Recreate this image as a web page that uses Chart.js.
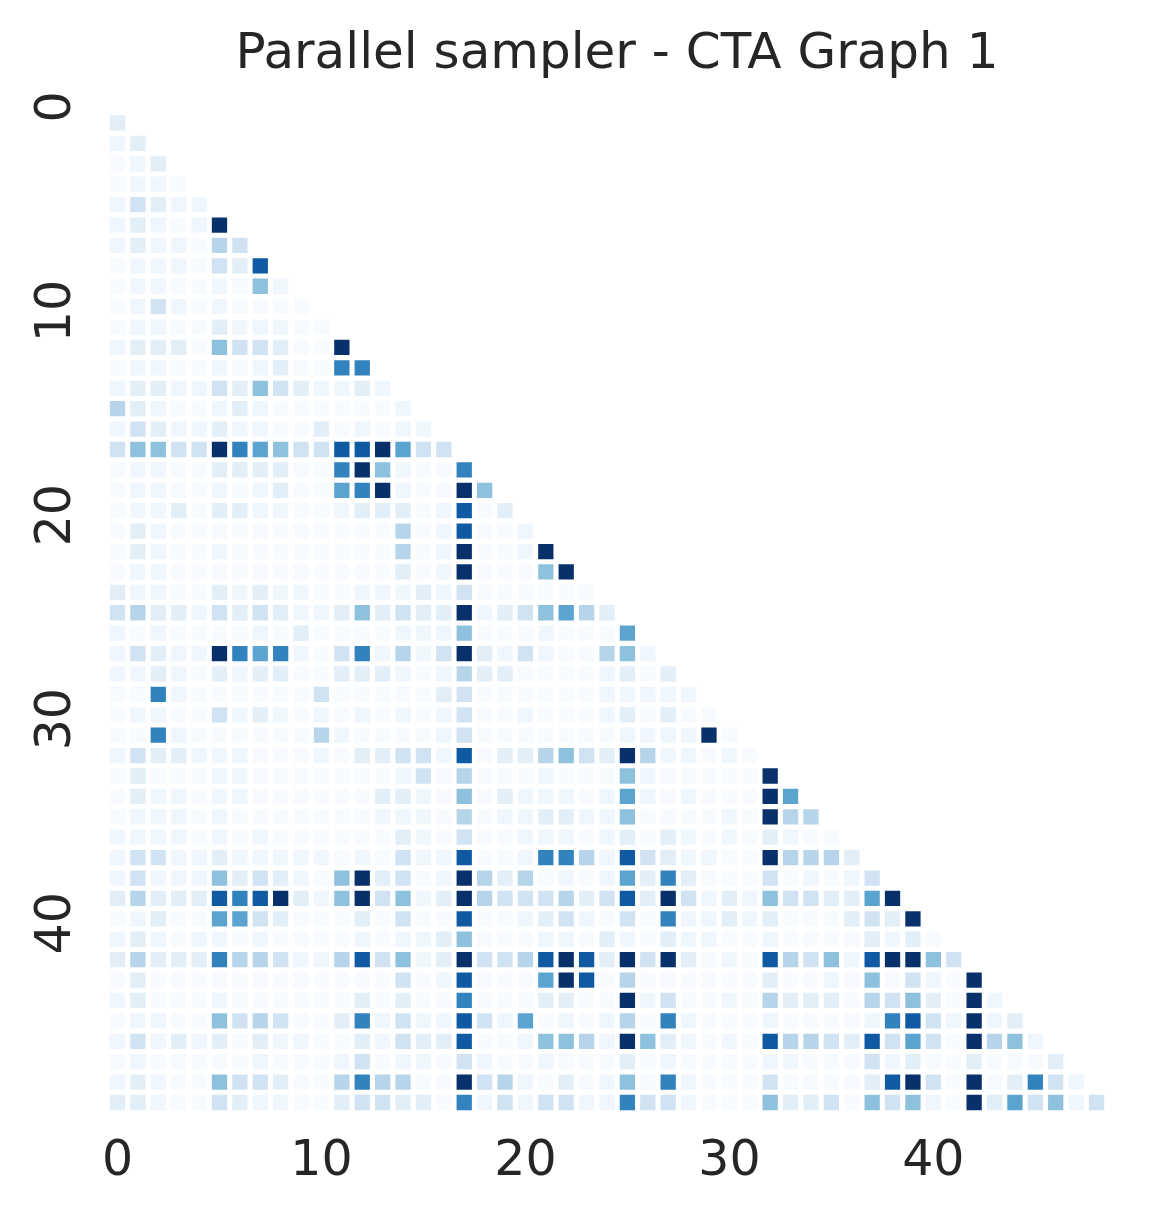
<!DOCTYPE html>
<html>
<head>
<meta charset="utf-8">
<title>Parallel sampler - CTA Graph 1</title>
<script src="https://cdn.jsdelivr.net/npm/chart.js@4.4.1/dist/chart.umd.min.js"></script>
<style>
  html, body { margin: 0; padding: 0; background: #ffffff; }
  #wrap { position: relative; width: 1157px; height: 1220px; }
</style>
</head>
<body>
<div id="wrap"><canvas id="heatmap"></canvas></div>
<script>
// heatmap title and tick labels
const chartTitle = 'Parallel sampler - CTA Graph 1';
const tickValues = [0, 10, 20, 30, 40];
const nNodes = 49;

// lower-triangular matrix, row r holds columns 0..r
// (0 = palest, 9 = darkest blue)
const weights = [
  [2],
  [1,2],
  [0,1,2],
  [0,1,1,0],
  [1,3,2,1,1],
  [1,2,1,0,1,9],
  [1,2,1,1,0,4,3],
  [0,1,1,1,0,3,2,8],
  [0,1,1,0,0,1,0,5,1],
  [0,1,3,1,0,1,0,0,0,0],
  [0,1,1,0,0,2,1,1,1,0,0],
  [1,2,2,2,0,5,3,3,2,0,0,9],
  [0,1,1,0,0,1,0,1,2,0,0,7,7],
  [1,2,2,1,1,3,2,5,3,2,1,1,2,1],
  [4,2,1,0,0,1,2,1,0,0,0,0,0,0,1],
  [1,3,2,1,1,2,1,1,0,0,2,0,1,0,1,1],
  [3,5,5,3,3,9,7,6,5,3,3,8,8,9,6,3,3],
  [0,1,1,0,0,2,2,2,2,0,0,7,9,5,1,0,0,7],
  [0,1,1,0,0,1,0,1,2,0,0,6,7,9,1,0,0,9,5],
  [0,1,1,2,0,2,2,1,1,0,0,1,2,2,2,0,1,8,0,2],
  [0,2,1,0,0,0,0,0,0,0,0,0,0,0,4,0,1,8,0,0,1],
  [0,2,1,0,0,1,0,0,0,0,0,0,0,0,4,0,1,9,0,0,1,9],
  [0,1,1,0,0,0,0,0,0,0,0,0,0,0,2,0,1,9,0,0,0,5,9],
  [2,1,1,0,0,2,1,2,1,1,0,0,1,1,1,2,1,3,0,0,0,0,0,0],
  [3,4,2,2,1,3,2,3,2,1,1,2,5,2,3,2,2,9,1,2,3,5,6,4,2],
  [1,0,1,0,0,0,0,1,0,2,0,0,0,0,1,1,1,5,0,0,0,1,0,0,0,6],
  [1,3,2,1,1,9,7,6,7,1,0,3,7,1,4,1,3,9,2,1,3,1,0,0,4,5,1],
  [1,1,2,1,0,2,1,2,2,0,0,2,2,2,1,0,1,4,2,2,0,0,0,0,1,2,0,2],
  [0,0,7,1,0,0,0,0,0,0,3,0,0,0,0,0,2,3,0,0,0,0,0,0,1,1,1,1,1],
  [0,1,1,0,0,3,1,2,1,0,1,0,1,0,1,0,1,3,0,0,1,0,0,0,1,2,0,2,0,0],
  [0,0,7,1,0,0,0,0,0,0,4,1,0,0,0,0,1,3,0,0,0,0,0,0,0,1,1,1,1,9,0],
  [1,3,2,2,1,1,1,0,0,0,1,0,2,2,3,3,1,8,0,2,2,4,5,3,2,9,4,1,1,0,1,0],
  [0,2,0,0,0,1,1,0,0,0,0,0,0,0,1,3,0,4,0,0,0,1,0,0,0,5,1,0,0,0,0,0,9],
  [0,2,1,1,0,1,1,0,0,0,0,0,0,2,2,1,0,5,0,2,1,1,1,0,1,6,1,0,1,0,0,0,9,6],
  [0,1,1,1,0,1,0,0,0,0,0,0,0,1,1,1,0,4,0,1,1,2,2,1,1,5,0,0,0,0,1,0,9,4,4],
  [1,1,1,1,0,1,0,1,0,0,0,0,0,0,2,1,0,3,0,0,1,1,1,0,1,2,0,2,1,0,1,0,2,1,0,0],
  [1,3,3,1,1,2,1,1,1,1,1,0,1,0,3,1,1,8,0,0,1,7,7,4,1,8,3,2,1,1,0,0,9,4,4,4,2],
  [1,3,1,1,1,5,2,3,2,1,0,5,9,2,3,0,1,9,4,2,4,0,1,0,1,6,2,7,2,0,0,0,3,0,1,0,1,3],
  [2,4,2,2,2,8,7,8,9,2,1,5,9,3,5,1,2,9,4,3,3,3,4,2,3,8,2,9,3,1,2,1,5,3,3,2,2,6,9],
  [0,1,2,0,0,6,6,3,2,0,0,0,2,0,3,0,0,8,0,0,1,2,3,1,0,3,0,7,1,1,2,1,2,0,0,0,2,3,2,9],
  [1,2,1,0,1,1,0,1,0,0,0,0,1,0,1,1,2,5,0,0,0,1,1,0,2,1,0,2,1,1,0,0,1,0,0,0,0,2,1,2,0],
  [2,4,2,2,2,7,4,4,3,1,1,4,8,3,5,1,2,9,3,3,4,8,9,8,2,9,3,9,2,0,1,0,8,4,3,5,1,8,9,9,5,3],
  [0,2,0,0,0,0,0,0,0,0,0,0,0,0,3,0,1,8,0,0,0,6,9,8,0,4,0,0,0,0,0,0,2,0,0,1,0,5,0,3,1,0,9],
  [1,2,0,0,0,1,0,0,0,0,0,0,2,0,2,0,0,7,0,0,0,2,2,0,0,9,1,3,0,0,1,0,4,2,2,2,0,4,3,5,2,0,9,1],
  [0,1,1,0,0,5,3,4,3,0,0,2,7,1,3,1,1,8,3,1,6,0,1,0,1,4,0,7,1,0,0,0,1,0,0,0,0,1,7,8,3,1,9,1,2],
  [1,3,1,2,1,2,0,2,1,1,0,0,2,1,3,2,2,8,0,0,1,5,5,4,1,9,5,2,1,0,1,0,8,4,4,3,2,8,3,6,3,0,9,4,5,1],
  [0,1,0,0,0,0,0,1,0,0,0,1,3,0,1,1,0,3,1,0,0,1,0,0,0,2,0,1,0,0,0,0,1,1,0,0,0,3,1,2,0,0,2,0,0,0,2],
  [1,2,1,0,0,5,3,3,2,0,0,4,7,4,4,0,0,9,3,4,1,0,2,0,1,5,0,7,1,0,0,0,3,0,0,0,0,2,8,9,3,0,9,0,2,7,3,1],
  [2,2,1,0,0,3,2,1,1,0,0,2,3,3,2,2,0,7,1,3,1,3,3,1,1,7,3,3,1,0,0,0,5,2,2,3,0,5,3,5,1,0,9,2,6,3,5,1,3]
];

// matplotlib "Blues" colormap stops
const blues = ['#f7fbff', '#deebf7', '#c6dbef', '#9ecae1', '#6baed6', '#4292c6', '#2171b5', '#08519c', '#08306b'];

function hexToRgb(h) {
  return [parseInt(h.slice(1, 3), 16), parseInt(h.slice(3, 5), 16), parseInt(h.slice(5, 7), 16)];
}

function bluesColor(v) {
  // power norm so the many faint cells keep some spread
  const t = Math.pow(Math.max(0, Math.min(9, v)) / 9, 1.5);
  const pos = t * (blues.length - 1);
  const i = Math.min(Math.floor(pos), blues.length - 2);
  const f = pos - i;
  const a = hexToRgb(blues[i]);
  const b = hexToRgb(blues[i + 1]);
  const c = a.map((x, k) => Math.round(x + (b[k] - x) * f));
  return 'rgb(' + c[0] + ',' + c[1] + ',' + c[2] + ')';
}

const cells = [];
weights.forEach((row, r) => {
  row.forEach((v, c) => {
    cells.push({ x: c, y: r, v: v });
  });
});

const textColor = '#262626';
const fontFamily = '"DejaVu Sans", "Liberation Sans", sans-serif';
Chart.defaults.font.family = fontFamily;

// seaborn-like cell size: a cell leaves a white gap around it
const cellRadius = (ctx) => {
  const xs = ctx.chart.scales.x;
  const pitch = Math.abs(xs.getPixelForValue(1) - xs.getPixelForValue(0));
  return (pitch * 0.75) / (2 * Math.SQRT1_2);
};

const extraText = {
  id: 'extraText',
  afterDraw(chart) {
    const ctx = chart.ctx;
    const ys = chart.scales.y;
    const xs = chart.scales.x;
    ctx.save();
    ctx.fillStyle = textColor;
    // title
    ctx.font = '50px ' + fontFamily;
    ctx.textAlign = 'center';
    ctx.textBaseline = 'alphabetic';
    ctx.fillText(chartTitle, (xs.left + xs.right) / 2 + 10, 68);
    // rotated y tick labels
    ctx.font = '49px ' + fontFamily;
    tickValues.forEach(v => {
      const y = ys.getPixelForValue(v) - 16;
      ctx.save();
      ctx.translate(ys.right - 37, y);
      ctx.rotate(-Math.PI / 2);
      ctx.textAlign = 'center';
      ctx.textBaseline = 'alphabetic';
      ctx.fillText(String(v), 0, 0);
      ctx.restore();
    });
    ctx.restore();
  }
};

new Chart(document.getElementById('heatmap'), {
  type: 'scatter',
  data: {
    datasets: [{
      data: cells,
      pointStyle: 'rect',
      pointRadius: cellRadius,
      pointHoverRadius: cellRadius,
      borderWidth: 0,
      backgroundColor: (ctx) => bluesColor(ctx.raw ? ctx.raw.v : 0)
    }]
  },
  options: {
    responsive: true,
    maintainAspectRatio: false,
    devicePixelRatio: 1,
    animation: false,
    events: [],
    layout: { padding: { top: 112.8, right: 50.3, left: 0, bottom: 0 } },
    plugins: {
      legend: { display: false },
      tooltip: { enabled: false },
      title: { display: false }
    },
    scales: {
      x: {
        type: 'linear',
        position: 'bottom',
        min: -0.5,
        max: nNodes - 0.5,
        grid: { display: false, drawTicks: false },
        border: { display: false },
        afterBuildTicks: (scale) => { scale.ticks = tickValues.map(v => ({ value: v })); },
        afterFit: (scale) => { scale.height = 107.3; },
        ticks: {
          color: textColor,
          font: { size: 49 },
          padding: 20,
          maxRotation: 0,
          callback: (v) => String(v)
        }
      },
      y: {
        type: 'linear',
        reverse: true,
        min: -0.5,
        max: nNodes - 0.5,
        grid: { display: false, drawTicks: false },
        border: { display: false },
        ticks: { display: false },
        afterFit: (scale) => { scale.width = 107.3; }
      }
    }
  },
  plugins: [extraText]
});
</script>
</body>
</html>
